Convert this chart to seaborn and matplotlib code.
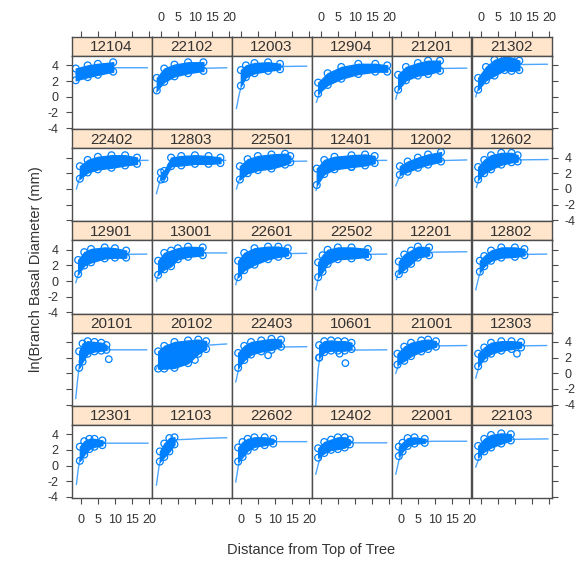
import matplotlib
matplotlib.use("Agg")
import matplotlib.pyplot as plt
import seaborn as sns

# panel labels, in reading order (5 rows x 6 columns)
TREES = ["12104", "22102", "12003", "12904", "21201", "21302",
         "22402", "12803", "22501", "12401", "12002", "12602",
         "12901", "13001", "22601", "22502", "12201", "12802",
         "20101", "20102", "22403", "10601", "21001", "12303",
         "12301", "12103", "22602", "12402", "22001", "22103"]

# fitted curve of each panel
CURVE_X = [
    [-1.5, 0, 3, 6, 10, 19.5],
    [-1.3, 0, 2, 4, 7, 10, 19.3],
    [-1.3, -0.5, 0.5, 1.5, 3, 6, 10, 19.3],
    [-1.3, 0, 2, 5, 9, 14, 19.5],
    [-1.5, -0.5, 1, 3, 6, 10, 19.3],
    [-1.5, -0.5, 1, 3, 6, 10, 19.5],
    [-1.3, -0.3, 1, 3, 6, 10, 19.7],
    [-1.3, -0.3, 1, 3, 6, 10, 19.0],
    [-1.3, -0.3, 1, 3, 6, 10, 19.3],
    [-1.4, -0.5, 1, 3, 6, 10, 19.3],
    [-1.5, -0.5, 1, 3, 6, 10, 19.3],
    [-1.3, -0.5, 1, 3, 6, 9, 19.7],
    [-1.5, -0.5, 1, 3, 6, 10, 19.3],
    [-1.3, -0.5, 1, 3, 6, 10, 19.3],
    [-1.5, -0.5, 1, 3, 6, 10, 19.3],
    [-1.5, -0.5, 1, 3, 6, 10, 19.3],
    [-1.3, -0.5, 1, 3, 6, 10, 19.3],
    [-1.5, -0.5, 1, 3, 6, 10, 19.3],
    [-1.5, -1.0, -0.5, 0, 1, 3, 6, 19.3],
    [-1.5, -0.5, 1, 3, 6, 10, 14, 19.3],
    [-1.5, -0.5, 1, 3, 6, 10, 19.3],
    [-1.5, -1.2, -0.8, -0.3, 1, 3, 19.3],
    [-1.5, -0.5, 1, 3, 6, 10, 19.3],
    [-1.5, -0.5, 1, 3, 6, 10, 19.3],
    [-1.3, -0.8, -0.3, 0.5, 2, 4, 7, 19.7],
    [-1.3, -0.5, 0.5, 1.5, 3, 5, 8, 12, 19.3],
    [-1.5, -0.8, 0, 1, 3, 6, 10, 19.3],
    [-1.5, -0.5, 1, 3, 6, 10, 19.3],
    [-1.5, -0.5, 1, 3, 6, 10, 19.3],
    [-1.5, -0.5, 1, 3, 6, 10, 19.7],
]
CURVE_Y = [
    [2.9, 3.2, 3.5, 3.65, 3.7, 3.7],
    [0.6, 1.6, 2.5, 3.0, 3.4, 3.6, 3.7],
    [-1.5, 0.3, 2.0, 2.9, 3.4, 3.7, 3.85, 3.9],
    [-0.7, 1.0, 2.1, 2.9, 3.4, 3.6, 3.7],
    [-0.3, 1.3, 2.4, 3.0, 3.4, 3.6, 3.65],
    [0.0, 1.5, 2.6, 3.4, 3.9, 4.1, 4.15],
    [0.0, 1.5, 2.4, 3.0, 3.4, 3.6, 3.65],
    [-0.6, 1.0, 2.2, 3.0, 3.4, 3.6, 3.65],
    [0.0, 1.4, 2.3, 2.9, 3.3, 3.5, 3.55],
    [-0.2, 1.2, 2.3, 2.9, 3.3, 3.6, 3.65],
    [0.4, 1.5, 2.3, 2.9, 3.3, 3.6, 3.7],
    [0.2, 1.4, 2.4, 3.1, 3.5, 3.7, 3.75],
    [-0.2, 1.2, 2.3, 2.9, 3.25, 3.4, 3.45],
    [0.0, 1.3, 2.3, 3.0, 3.4, 3.6, 3.6],
    [-0.45, 1.1, 2.2, 2.9, 3.3, 3.5, 3.55],
    [-1.1, 0.8, 2.1, 2.8, 3.2, 3.4, 3.45],
    [0.2, 1.5, 2.5, 3.2, 3.6, 3.7, 3.75],
    [-1.1, 0.7, 2.0, 2.8, 3.2, 3.4, 3.45],
    [-3.2, -1.0, 0.8, 2.0, 2.6, 2.9, 3.0, 3.0],
    [0.5, 1.3, 1.9, 2.5, 3.0, 3.4, 3.6, 3.75],
    [-1.1, 0.8, 2.0, 2.7, 3.1, 3.35, 3.4],
    [-4.1, -2.0, 0.5, 2.0, 2.7, 2.95, 3.0],
    [0.0, 1.3, 2.2, 2.9, 3.3, 3.5, 3.55],
    [-0.6, 1.0, 2.2, 2.9, 3.3, 3.5, 3.55],
    [-2.4, -0.5, 0.8, 1.8, 2.5, 2.75, 2.85, 2.85],
    [-2.5, 0.0, 1.5, 2.5, 3.1, 3.3, 3.35, 3.45, 3.55],
    [-2.1, -0.2, 1.2, 2.0, 2.7, 3.0, 3.05, 3.05],
    [-1.1, 0.6, 1.9, 2.6, 2.85, 2.9, 2.9],
    [-1.1, 0.8, 2.1, 2.8, 3.05, 3.1, 3.1],
    [-0.2, 1.0, 2.1, 2.8, 3.2, 3.35, 3.4],
]

# extent of each point cloud: x stations with lower / upper edge
CLOUD_X = [
    [-1.5, 2, 5, 9.5],
    [-1.2, 1, 4, 8, 12.5],
    [0, 1.5, 4, 8, 11.5],
    [-0.8, 2, 6, 11, 16, 19.5],
    [-0.8, 1.5, 5, 8, 11.5],
    [-0.8, 1.5, 4, 7, 9, 11.3],
    [-0.3, 2, 5, 9, 13, 16.5],
    [0, 1, 3, 6, 10, 14, 17.5],
    [-0.3, 2, 5, 9, 13, 14.5],
    [-1.2, 1, 4, 9, 13, 15.8],
    [-0.3, 2, 5, 8, 11.8],
    [-0.8, 1, 3, 6, 9, 10.8],
    [-0.8, 1, 3, 7, 10, 13.3],
    [-0.8, 1, 3, 5, 8, 12.3],
    [-0.8, 1, 4, 8, 11, 13.8],
    [-0.8, 0.5, 2, 5, 9, 13.8],
    [-0.6, 1, 3, 5, 8.3],
    [-0.3, 1, 3, 6, 10, 12.8],
    [-0.5, 0.5, 2, 4, 6, 7.5],
    [-0.8, 1, 4, 8, 11, 13.3],
    [-0.8, 1, 3, 6, 9, 11.8],
    [-0.5, 1, 3, 5, 7, 9],
    [-1.0, 1, 3, 6, 8, 10.3],
    [-0.8, 1, 3, 6, 9, 11.8],
    [-0.3, 1, 2.5, 4, 6.3],
    [-0.3, 1, 2.5, 4],
    [-0.8, 0.5, 2, 4, 7, 9.5],
    [-0.8, 1, 3, 5, 7, 8.5],
    [-0.6, 0.5, 2, 4, 7],
    [-0.8, 1, 3, 6, 8.8],
]
CLOUD_LO = [
    [2.1, 2.5, 2.8, 3.2],
    [0.8, 1.9, 2.6, 3.0, 3.3],
    [1.4, 2.5, 3.0, 3.3, 3.5],
    [0.4, 1.5, 2.3, 2.9, 3.2, 3.2],
    [0.9, 2.1, 2.7, 2.9, 3.3],
    [0.9, 2.1, 2.7, 3.4, 3.3, 3.4],
    [1.3, 2.1, 2.5, 2.7, 3.0, 3.2],
    [1.2, 1.3, 2.9, 3.0, 3.2, 3.2, 3.3],
    [1.2, 2.0, 2.4, 2.6, 3.1, 3.4],
    [0.5, 1.9, 2.5, 2.8, 3.0, 3.3],
    [1.8, 2.2, 2.7, 3.1, 3.5],
    [1.2, 2.0, 2.5, 3.1, 3.4, 3.5],
    [0.9, 2.0, 2.4, 2.9, 3.0, 3.0],
    [0.8, 1.5, 1.9, 2.8, 3.1, 3.3],
    [0.5, 1.4, 2.1, 2.8, 3.1, 3.3],
    [0.5, 1.2, 2.2, 2.8, 2.9, 3.1],
    [0.9, 1.5, 2.2, 3.0, 3.3],
    [1.2, 1.9, 2.6, 3.0, 3.1, 3.3],
    [0.7, 1.5, 2.5, 2.8, 2.9, 3.0],
    [0.6, 0.6, 0.7, 1.3, 2.5, 3.1],
    [0.7, 1.7, 2.4, 2.8, 3.0, 3.4],
    [2.0, 2.7, 2.9, 2.9, 2.9, 3.1],
    [1.1, 1.6, 2.2, 2.8, 3.1, 3.4],
    [0.9, 1.9, 2.5, 2.9, 3.1, 3.3],
    [0.6, 1.4, 2.1, 2.4, 2.6],
    [0.5, 1.1, 1.8, 2.7],
    [0.5, 1.1, 1.9, 2.4, 2.6, 2.8],
    [1.0, 1.6, 2.0, 2.1, 2.3, 2.7],
    [1.2, 1.8, 2.5, 2.8, 2.9],
    [1.1, 1.8, 2.3, 2.8, 3.2],
]
CLOUD_HI = [
    [3.6, 4.0, 4.2, 4.4],
    [2.4, 3.6, 4.1, 4.4, 4.4],
    [3.4, 4.0, 4.3, 4.4, 4.2],
    [1.8, 3.0, 3.8, 4.2, 4.2, 4.0],
    [2.8, 3.8, 4.3, 4.6, 4.6],
    [2.4, 3.8, 4.7, 5.1, 5.0, 4.6],
    [2.9, 3.7, 4.1, 4.3, 4.3, 4.0],
    [2.1, 2.3, 4.0, 4.2, 4.3, 4.2, 4.0],
    [2.9, 3.8, 4.2, 4.4, 4.5, 4.2],
    [2.6, 3.7, 4.1, 4.3, 4.4, 4.2],
    [2.9, 3.5, 4.0, 4.4, 4.7],
    [2.8, 3.7, 4.3, 4.6, 4.6, 4.3],
    [2.7, 3.7, 4.1, 4.3, 4.2, 3.9],
    [2.6, 3.6, 3.9, 4.2, 4.4, 4.3],
    [2.6, 3.6, 4.2, 4.4, 4.4, 4.2],
    [2.4, 3.3, 4.0, 4.3, 4.3, 4.1],
    [2.5, 3.4, 3.9, 4.4, 4.3],
    [2.6, 3.2, 3.9, 4.3, 4.3, 4.1],
    [2.8, 3.8, 4.1, 4.0, 3.9, 3.6],
    [2.8, 3.5, 4.0, 4.2, 4.3, 4.1],
    [2.6, 3.5, 4.0, 4.2, 4.4, 4.3],
    [3.6, 4.1, 4.2, 4.1, 4.1, 3.9],
    [2.5, 3.4, 3.9, 4.2, 4.3, 4.1],
    [2.5, 3.3, 3.9, 4.1, 4.1, 4.0],
    [2.4, 3.1, 3.4, 3.4, 3.2],
    [1.8, 2.8, 3.5, 3.6],
    [2.3, 3.0, 3.4, 3.6, 3.6, 3.4],
    [2.2, 3.0, 3.3, 3.6, 3.6, 3.3],
    [2.4, 2.9, 3.5, 3.6, 3.4],
    [2.5, 3.4, 3.9, 4.1, 4.0],
]

# stray points lying away from the clouds
OUT_X = [[], [], [], [], [], [], [], [], [], [9.0], [], [],
         [10.5, 12.5], [], [], [], [], [],
         [8.2], [10.0], [8.0], [-0.5, 5.5, 7.2], [], [10.6],
         [], [], [], [], [], []]
OUT_Y = [[], [], [], [], [], [], [], [], [], [2.8], [], [],
         [3.4, 3.3], [], [], [], [], [],
         [1.8], [1.7], [2.3], [2.0, 2.5, 1.3], [], [2.5],
         [], [], [], [], [], []]

X_TICKS = [0, 5, 10, 15, 20]
Y_TICKS = [-4, -2, 0, 2, 4]

BLUE = "#0080ff"
STRIP = "#ffe5cc"
FRAME = "#4d4d4d"
TEXT = "#333333"

plt.rcParams["font.family"] = ["Liberation Sans", "DejaVu Sans"]
plt.rcParams["font.size"] = 9
plt.rcParams["axes.unicode_minus"] = False
plt.rcParams["xtick.color"] = FRAME
plt.rcParams["ytick.color"] = FRAME
plt.rcParams["xtick.labelcolor"] = TEXT
plt.rcParams["ytick.labelcolor"] = TEXT
plt.rcParams["xtick.major.size"] = 4.5
plt.rcParams["ytick.major.size"] = 4.5
plt.rcParams["xtick.major.pad"] = 7
plt.rcParams["ytick.major.pad"] = 5

W, H = 579, 561
fig = plt.figure(figsize=(W / 100, H / 100), dpi=100)


def box(x0, y0, w, h):
    # pixel box measured from the top-left corner -> figure fraction
    return [x0 / W, 1 - (y0 + h) / H, w / W, h / H]


XLIM = (-2.75, 20.75)
YLIM = (-4.15, 5.2)

for i, tree in enumerate(TREES):
    r, c = divmod(i, 6)
    x0 = 71.5 + 80 * c
    top = 37 + 92.2 * r

    # strip with the tree label
    sax = fig.add_axes(box(x0, top, 80, 19))
    sax.set_facecolor(STRIP)
    sax.set_xlim(XLIM)
    sax.set_yticks([])
    sax.text(0.5, 0.45, tree, transform=sax.transAxes, ha="center",
             va="center", fontsize=11, color=TEXT)
    if r == 0:
        sax.set_xticks(X_TICKS)
        sax.tick_params(axis="x", top=True, bottom=False,
                        labeltop=(c % 2 == 1), labelbottom=False, pad=5)
    else:
        sax.set_xticks([])

    ax = fig.add_axes(box(x0, top + 19, 80, 73.2))
    ax.fill_between(CLOUD_X[i], CLOUD_LO[i], CLOUD_HI[i], color=BLUE,
                    edgecolor=BLUE, linewidth=1.0)
    sns.scatterplot(x=CLOUD_X[i] + CLOUD_X[i], y=CLOUD_LO[i] + CLOUD_HI[i],
                    ax=ax, s=24, marker="o", facecolor="none",
                    edgecolor=BLUE, linewidth=0.9, legend=False)
    sns.lineplot(x=CURVE_X[i], y=CURVE_Y[i], ax=ax, color=BLUE,
                 linewidth=1.0, alpha=0.7, sort=False, estimator=None)
    if OUT_X[i]:
        sns.scatterplot(x=OUT_X[i], y=OUT_Y[i], ax=ax, s=22, marker="o",
                        facecolor="none", edgecolor=BLUE, linewidth=0.9,
                        legend=False)

    ax.set_xlim(XLIM)
    ax.set_ylim(YLIM)
    ax.set_xticks(X_TICKS)
    ax.set_yticks(Y_TICKS)
    ax.set_xlabel("")
    ax.set_ylabel("")
    ax.tick_params(axis="x", bottom=(r == 4), top=False,
                   labelbottom=(r == 4 and c % 2 == 0), labeltop=False)
    ax.tick_params(axis="y", left=(c == 0), right=(c == 5),
                   labelleft=(c == 0 and r % 2 == 0),
                   labelright=(c == 5 and r % 2 == 1))

    for a in (ax, sax):
        for sp in a.spines.values():
            sp.set_color(FRAME)
            sp.set_linewidth(1.0)

fig.text(0.062, 0.52, "ln(Branch Basal Diameter (mm)", rotation=90,
         ha="center", va="center", fontsize=10.5, color=TEXT)
fig.text(0.538, 0.02, "Distance from Top of Tree", ha="center",
         va="center", fontsize=10.5, color=TEXT)

fig.savefig("out.png", dpi=100)
